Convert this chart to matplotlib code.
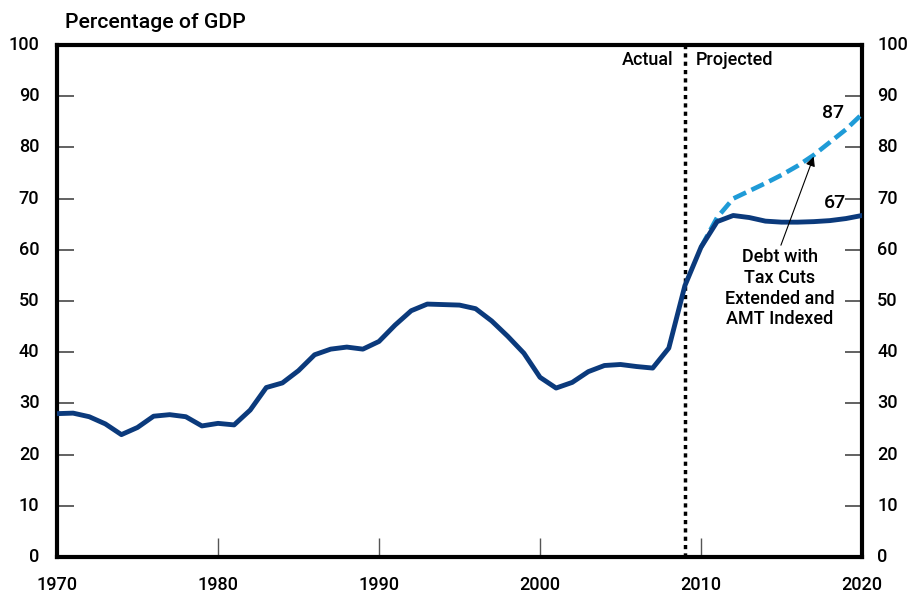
import matplotlib
matplotlib.use("Agg")
import matplotlib.pyplot as plt

years = list(range(1970, 2021))
debt = [28.0, 28.1, 27.4, 26.0, 23.9, 25.3, 27.5, 27.8, 27.4, 25.6,
        26.1, 25.8, 28.7, 33.1, 34.0, 36.4, 39.5, 40.6, 41.0, 40.6,
        42.1, 45.3, 48.1, 49.4, 49.3, 49.2, 48.5, 46.1, 43.1, 39.8,
        35.1, 33.0, 34.1, 36.2, 37.4, 37.6, 37.2, 36.9, 40.8, 53.0,
        60.5, 65.5, 66.7, 66.3, 65.6, 65.4, 65.4, 65.5, 65.7, 66.1, 66.7]
alt_years = list(range(2010, 2021))
alt_debt = [60.5, 66.3, 70.0, 71.5, 73.0, 74.6, 76.4, 78.5, 81.0, 83.5, 86.5]
yticks = list(range(0, 101, 10))
xticks = [1970, 1980, 1990, 2000, 2010, 2020]

plt.rcParams['font.family'] = ['Roboto', 'DejaVu Sans']
W = 'medium'

fig = plt.figure(figsize=(9.09, 5.94), dpi=100)
ax = fig.add_axes([57/909, 1-557/594, (862-57)/909, (557-45)/594])
ax.set_xlim(1970, 2020)
ax.set_ylim(0, 100)

ax.plot(alt_years, alt_debt, color='#1f9bd7', lw=3.3, dashes=(3.0, 1.3), zorder=3)
ax.plot(years, debt, color='#0b3a7c', lw=3.5, zorder=4)
ax.axvline(2009, color='black', lw=2.5, dashes=(1.2, 1.2), zorder=2)

for s in ax.spines.values():
    s.set_linewidth(3)
    s.set_color('black')

ax.set_yticks(yticks)
ax.set_yticklabels([])
ax.tick_params(axis='y', which='both', direction='in', length=12, width=1.3,
               color='#555555', left=True, right=True)
ax.set_xticks([1980, 1990, 2000, 2010])
ax.set_xticklabels([])
ax.tick_params(axis='x', direction='in', length=14, width=1.0, color='#555555')

fs = 13
for v in yticks:
    ax.text(-0.022, v/100, str(v), transform=ax.transAxes, ha='right', va='center', fontsize=fs, fontweight=W)
    ax.text(1.019, v/100, str(v), transform=ax.transAxes, ha='left', va='center', fontsize=fs, fontweight=W)
for xv in xticks:
    ax.text(xv, -5.5, str(xv), ha='center', va='center', fontsize=fs, fontweight=W)

fig.text(65/909, 1-22/594, 'Percentage of GDP', fontsize=15.3, fontweight=W, ha='left', va='center')
ax.text(2008.3, 97, 'Actual', ha='right', va='center', fontsize=13, fontweight=W)
ax.text(2009.7, 97, 'Projected', ha='left', va='center', fontsize=13, fontweight=W)
ax.text(2018.2, 86.8, '87', ha='center', va='center', fontsize=14, fontweight=W)
ax.text(2018.3, 69.2, '67', ha='center', va='center', fontsize=14, fontweight=W)
ax.annotate('Debt with\nTax Cuts\nExtended and\nAMT Indexed', xy=(2017.0, 78.2), xytext=(2014.9, 52.5),
            ha='center', va='center', fontsize=13, fontweight=W, linespacing=1.2,
            arrowprops=dict(arrowstyle='-|>', color='black', lw=0.8, mutation_scale=14,
                            shrinkA=0, shrinkB=0, relpos=(0.5, 1.0)), zorder=5)

fig.savefig('out.png', dpi=100)
